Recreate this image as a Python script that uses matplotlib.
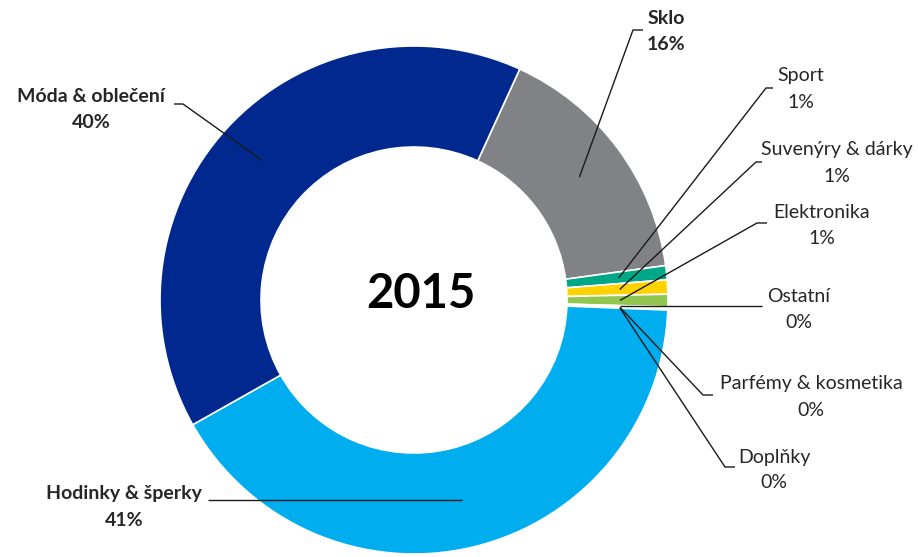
import numpy as np
import matplotlib.pyplot as plt

plt.rcParams['font.family'] = ['Lato', 'DejaVu Sans']

categories = ['Sklo', 'Sport', 'Suvenýry & dárky', 'Elektronika', 'Ostatní',
              'Parfémy & kosmetika', 'Doplňky', 'Hodinky & šperky', 'Móda & oblečení']
shares = [16.0, 0.9, 0.9, 0.8, 0.1, 0.05, 0.05, 41.2, 40.0]
colors = ['#808285', '#00A887', '#FFD200', '#92C74F', '#F4B183',
          '#F4A6A6', '#D9D9D9', '#00AEEF', '#00288F']
bold = [True, False, False, False, False, False, False, True, True]
title = '2015'

# label layout (pixel coords, y down): elbow x, elbow y, line end x, text x, name y, pct y
label_pos = {
    'Sklo': (633, 30, 643, 666, 18, 45),
    'Sport': (766, 88, 773, 801, 76, 102),
    'Suvenýry & dárky': (756, 162, 762, 837, 149, 176),
    'Elektronika': (757, 223, 767, 822, 212, 238),
    'Ostatní': (None, 306, 762, 799, 297, 323),
    'Parfémy & kosmetika': (703, 395, 713, 811, 383, 410),
    'Doplňky': (725, 467, 735, 774, 457, 483),
    'Hodinky & šperky': (None, None, 208, 124, 493, 520),
    'Móda & oblečení': (183, 104, 174, 91, 96, 122),
}

W, H = 918, 557
cx, cy = 414, 300
r_out, r_in = 254, 153
start = 24.6  # degrees clockwise from north where the first slice begins

fig = plt.figure(figsize=(W / 100, H / 100), dpi=100)
ax = fig.add_axes([0, 0, 1, 1])

# y axis inverted below, so counterclockwise in data = clockwise on screen
ax.pie(shares, colors=colors, startangle=270 + start, counterclock=True,
       radius=r_out, center=(cx, cy),
       wedgeprops=dict(width=r_out - r_in, edgecolor='white', linewidth=1.2))
ax.set_xlim(0, W)
ax.set_ylim(H, 0)
ax.set_aspect('equal')
ax.axis('off')

total = sum(shares)
cum = np.cumsum([0] + shares)
r_lead = 206
for i, name in enumerate(categories):
    mid = 270 + start + 360 * (cum[i] + shares[i] / 2) / total
    px = cx + r_lead * np.cos(np.radians(mid))
    py = cy + r_lead * np.sin(np.radians(mid))
    ex, ey, lx, tx, ny, ty = label_pos[name]
    if ex is None:
        yy = py if ey is None else ey
        xs, ys = [px, lx], [yy, yy]
    else:
        xs, ys = [px, ex, lx], [py, ey, ey]
    ax.plot(xs, ys, color='#1a1a1a', lw=1.0, solid_capstyle='butt')
    w = 'bold' if bold[i] else 'normal'
    ax.text(tx, ny, name, ha='center', va='center', fontsize=14,
            fontweight=w, color='#262626')
    ax.text(tx, ty, f'{shares[i]:.0f}%', ha='center', va='center', fontsize=14,
            fontweight=w, color='#262626')

ax.text(421, 294, title, ha='center', va='center', fontsize=34,
        fontweight='bold', color='black')

fig.savefig('out.png', dpi=100)
